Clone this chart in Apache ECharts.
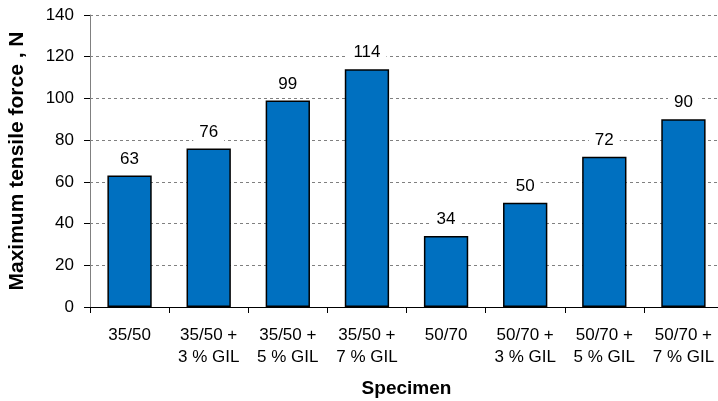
<!DOCTYPE html>
<html>
<head>
<meta charset="utf-8">
<script src="https://cdn.jsdelivr.net/npm/echarts@6/dist/echarts.min.js"></script>
<style>
  html, body { margin: 0; padding: 0; background: #fff; }
  #chart { width: 718px; height: 401px; }
</style>
</head>
<body>
<div id="chart"></div>
<script>
// Specimen groups and their maximum tensile force (N)
const specimens = [
  '35/50', '35/50 +\n3 % GIL', '35/50 +\n5 % GIL', '35/50 +\n7 % GIL',
  '50/70', '50/70 +\n3 % GIL', '50/70 +\n5 % GIL', '50/70 +\n7 % GIL'
];
const tensileForce = [63, 76, 99, 114, 34, 50, 72, 90];
const yTicks = { min: 0, max: 140, step: 20 };

const FONT = '"Liberation Sans", Arial, sans-serif';

const chart = echarts.init(document.getElementById('chart'), null, { renderer: 'canvas' });
chart.setOption({
  animation: false,
  backgroundColor: '#ffffff',
  grid: { left: 90, top: 15, width: 633, height: 292, containLabel: false, outerBoundsMode: 'none' },
  xAxis: {
    type: 'category',
    data: specimens,
    name: 'Specimen',
    nameLocation: 'middle',
    nameGap: 72,
    nameTextStyle: { fontFamily: FONT, fontSize: 19, fontWeight: 'bold', color: '#000' },
    axisLine: { lineStyle: { color: '#000', width: 1 } },
    axisTick: { show: true, length: 6, lineStyle: { color: '#000' } },
    axisLabel: { interval: 0, fontFamily: FONT, fontSize: 17, color: '#000', margin: 17, lineHeight: 22 }
  },
  yAxis: {
    type: 'value',
    min: yTicks.min,
    max: yTicks.max,
    interval: yTicks.step,
    name: 'Maximum tensile force , N',
    nameLocation: 'middle',
    nameGap: 62,
    nameTextStyle: { fontFamily: FONT, fontSize: 21, fontWeight: 'bold', color: '#000' },
    axisLine: { show: true, lineStyle: { color: '#808080', width: 1 } },
    axisTick: { show: true, length: 6, lineStyle: { color: '#000' } },
    axisLabel: { fontFamily: FONT, fontSize: 17, color: '#000', margin: 16 },
    splitLine: { show: true, lineStyle: { color: '#808080', type: [3, 3], width: 1 } }
  },
  series: [{
    type: 'bar',
    data: tensileForce,
    barCategoryGap: '44%',
    itemStyle: { color: '#0070C0', borderColor: '#000', borderWidth: 1.5 },
    label: {
      show: true,
      position: 'top',
      distance: 7,
      fontFamily: FONT,
      fontSize: 17,
      color: '#000',
      backgroundColor: '#fff',
      padding: [1, 6]
    }
  }]
});
</script>
</body>
</html>
